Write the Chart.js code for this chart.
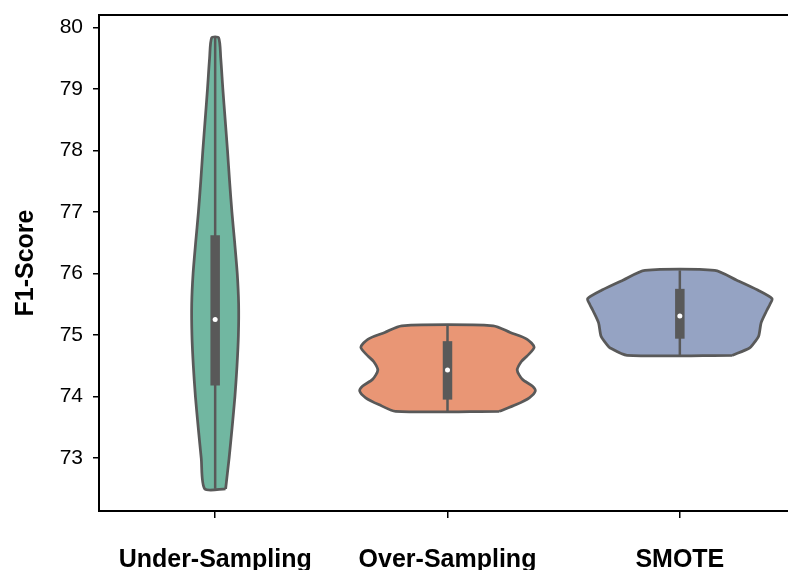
<!DOCTYPE html>
<html lang="en">
<head>
  <meta charset="UTF-8">
  <title>F1-Score violin plot</title>
  <script src="https://cdn.jsdelivr.net/npm/chart.js"></script>
  <style>
    html, body {
      margin: 0;
      padding: 0;
      width: 788px;
      height: 570px;
      overflow: hidden;
      background: #ffffff;
    }
    canvas {
      display: block;
    }
  </style>
</head>
<body>
  <canvas id="chart" width="800" height="570"></canvas>

  <script>
    // categories and per-violin summary
    const categories = ['Under-Sampling', 'Over-Sampling', 'SMOTE'];
    const fills = ['#71b7a1', '#e99675', '#95a3c3'];
    const mins = [72.5, 73.76, 74.67];
    const maxs = [79.83, 75.15, 76.05];
    const q1s = [74.18, 73.95, 74.94];
    const q3s = [76.62, 74.90, 75.75];
    const medians = [75.25, 74.43, 75.31];

    // density outline: F1 levels (bottom to top) and half-width in category units
    const underLevels = [72.5, 73.0, 73.5, 74.0, 74.5, 75.0, 75.5, 76.0, 76.5, 77.0, 77.5, 78.0, 78.5, 79.0, 79.5, 79.83];
    const underWidths = [0.045, 0.060, 0.073, 0.085, 0.094, 0.100, 0.101, 0.095, 0.084, 0.072, 0.062, 0.053, 0.043, 0.033, 0.024, 0.015];
    const overLevels = [73.76, 73.87, 73.98, 74.09, 74.17, 74.28, 74.43, 74.57, 74.66, 74.80, 74.93, 75.04, 75.15];
    const overWidths = [0.223, 0.296, 0.352, 0.378, 0.365, 0.322, 0.300, 0.318, 0.343, 0.373, 0.343, 0.270, 0.197];
    const smoteLevels = [74.67, 74.79, 74.85, 74.98, 75.20, 75.39, 75.50, 75.59, 75.73, 75.89, 76.05];
    const smoteWidths = [0.227, 0.300, 0.315, 0.339, 0.350, 0.373, 0.388, 0.397, 0.335, 0.245, 0.150];

    const violinLevels = [underLevels, overLevels, smoteLevels];
    const violinWidths = [underWidths, overWidths, smoteWidths];

    const yTicks = [73, 74, 75, 76, 77, 78, 79, 80];
    const xTicks = [0, 1, 2];

    const edge = '#595959';

    function outline(i) {
      const lv = violinLevels[i];
      const wd = violinWidths[i];
      const pts = [];
      for (let k = 0; k < lv.length; k++) pts.push({ x: i + wd[k], y: lv[k] });
      for (let k = lv.length - 1; k >= 0; k--) pts.push({ x: i - wd[k], y: lv[k] });
      pts.push(pts[0]);
      return pts;
    }

    const datasets = [];
    categories.forEach((c, i) => {
      datasets.push({
        data: [{ x: i, y: medians[i] }],
        showLine: false,
        pointRadius: 2.5,
        pointBackgroundColor: '#ffffff',
        pointBorderWidth: 0,
        order: 0
      });
      datasets.push({
        data: [{ x: i, y: q1s[i] }, { x: i, y: q3s[i] }],
        borderColor: edge,
        borderWidth: 9.5,
        borderCapStyle: 'butt',
        pointRadius: 0,
        order: 1
      });
      datasets.push({
        data: [{ x: i, y: mins[i] }, { x: i, y: maxs[i] }],
        borderColor: edge,
        borderWidth: 2.5,
        borderCapStyle: 'butt',
        pointRadius: 0,
        order: 2
      });
      datasets.push({
        data: outline(i),
        borderColor: edge,
        borderWidth: 2.75,
        backgroundColor: fills[i],
        fill: 'shape',
        tension: 0.25,
        pointRadius: 0,
        order: 3
      });
    });

    // top and right spines
    const frame = {
      id: 'frame',
      afterDraw(chart) {
        const { ctx, chartArea: a } = chart;
        ctx.save();
        ctx.strokeStyle = '#000';
        ctx.lineWidth = 2;
        ctx.beginPath();
        ctx.moveTo(a.left, a.top);
        ctx.lineTo(a.right, a.top);
        ctx.lineTo(a.right, a.bottom);
        ctx.stroke();
        ctx.restore();
      }
    };

    new Chart(document.getElementById('chart'), {
      type: 'line',
      data: { datasets: datasets },
      plugins: [frame],
      options: {
        responsive: false,
        animation: false,
        layout: { padding: { top: 15, right: 1.5, left: 0, bottom: 0 } },
        plugins: {
          legend: { display: false },
          tooltip: { enabled: false }
        },
        scales: {
          x: {
            type: 'linear',
            min: -0.5,
            max: 2.5,
            afterBuildTicks: s => { s.ticks = xTicks.map(v => ({ value: v })); },
            afterFit: s => { s.height = 59; s.paddingLeft = 0; s.paddingRight = 0; },
            grid: { drawOnChartArea: false, drawTicks: true, tickLength: 7, color: '#000', lineWidth: 1.5 },
            border: { display: true, color: '#000', width: 2 },
            ticks: {
              autoSkip: false,
              maxRotation: 0,
              padding: 27,
              color: '#000',
              font: { family: 'Liberation Sans', size: 25, weight: 'bold' },
              callback: v => categories[v]
            }
          },
          y: {
            min: 72.14,
            max: 80.2,
            afterBuildTicks: s => { s.ticks = yTicks.map(v => ({ value: v })); },
            afterFit: s => { s.width = 99; s.paddingTop = 0; s.paddingBottom = 0; },
            grid: { drawOnChartArea: false, drawTicks: true, tickLength: 6, color: '#000', lineWidth: 1.5 },
            border: { display: true, color: '#000', width: 2 },
            title: {
              display: true,
              text: 'F1-Score',
              color: '#000',
              padding: { top: 11, bottom: 0 },
              font: { family: 'Liberation Sans', size: 25, weight: 'bold' }
            },
            ticks: {
              padding: 10,
              color: '#000',
              font: { family: 'Liberation Sans', size: 21 },
              callback: v => String(v)
            }
          }
        }
      }
    });
  </script>
</body>
</html>
